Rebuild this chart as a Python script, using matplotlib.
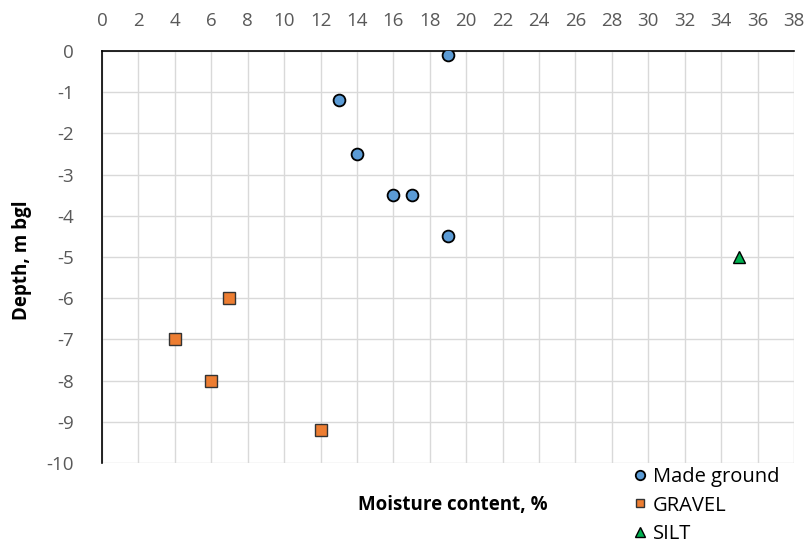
"""Moisture content against depth, scatter by stratum."""

from matplotlib import pyplot as plt

plt.rcParams["font.family"] = ["Open Sans", "DejaVu Sans"]
plt.rcParams["axes.unicode_minus"] = False

made_x = [19, 13, 14, 16, 17, 19]
made_y = [-0.1, -1.2, -2.5, -3.5, -3.5, -4.5]
gravel_x = [7, 4, 6, 12]
gravel_y = [-6, -7, -8, -9.2]
silt_x = [35]
silt_y = [-5]

x_ticks = list(range(0, 40, 2))
y_ticks = list(range(0, -11, -1))


def main():
    fig = plt.figure(figsize=(8.08, 5.44), dpi=100)
    ax = fig.add_axes([102 / 808, 1 - 463 / 544, 692 / 808, 412 / 544])

    ax.plot(made_x, made_y, "o", ms=8.5, mfc="#5B9BD5", mec="black", mew=1.3,
            label="Made ground", zorder=3)
    ax.plot(gravel_x, gravel_y, "s", ms=8, mfc="#ED7D31", mec="#333333",
            mew=1.0, label="GRAVEL", zorder=3)
    ax.plot(silt_x, silt_y, "^", ms=8.5, mfc="#00B050", mec="black", mew=1.0,
            label="SILT", zorder=3)

    ax.set_xlim(0, 38)
    ax.set_ylim(-10, 0)
    ax.set_xticks(x_ticks)
    ax.set_yticks(y_ticks)
    ax.xaxis.tick_top()
    ax.tick_params(length=0, labelsize=13.5, labelcolor="#595959")
    ax.tick_params(axis="x", pad=15)
    ax.tick_params(axis="y", pad=20)
    ax.grid(True, color="#D9D9D9", lw=1)
    ax.set_axisbelow(True)
    for side in ("right", "bottom"):
        ax.spines[side].set_visible(False)
    for side in ("top", "left"):
        ax.spines[side].set_color("black")
        ax.spines[side].set_linewidth(1.2)

    fig.text(453 / 808, 1 - 505 / 544, "Moisture content, %", ha="center",
             va="center", fontsize=13.5, fontweight="bold")
    fig.text(22 / 808, 1 - 260 / 544, "Depth, m bgl", ha="center",
             va="center", rotation=90, fontsize=13.5, fontweight="bold")

    fig.legend(loc="upper left", bbox_to_anchor=(622 / 808, 1 - 459 / 544),
               frameon=False, fontsize=14.5, handletextpad=0.15,
               handlelength=1.0, labelspacing=0.42, markerscale=0.8,
               borderaxespad=0)

    fig.savefig("out.png")
    plt.close(fig)


if __name__ == "__main__":
    main()
